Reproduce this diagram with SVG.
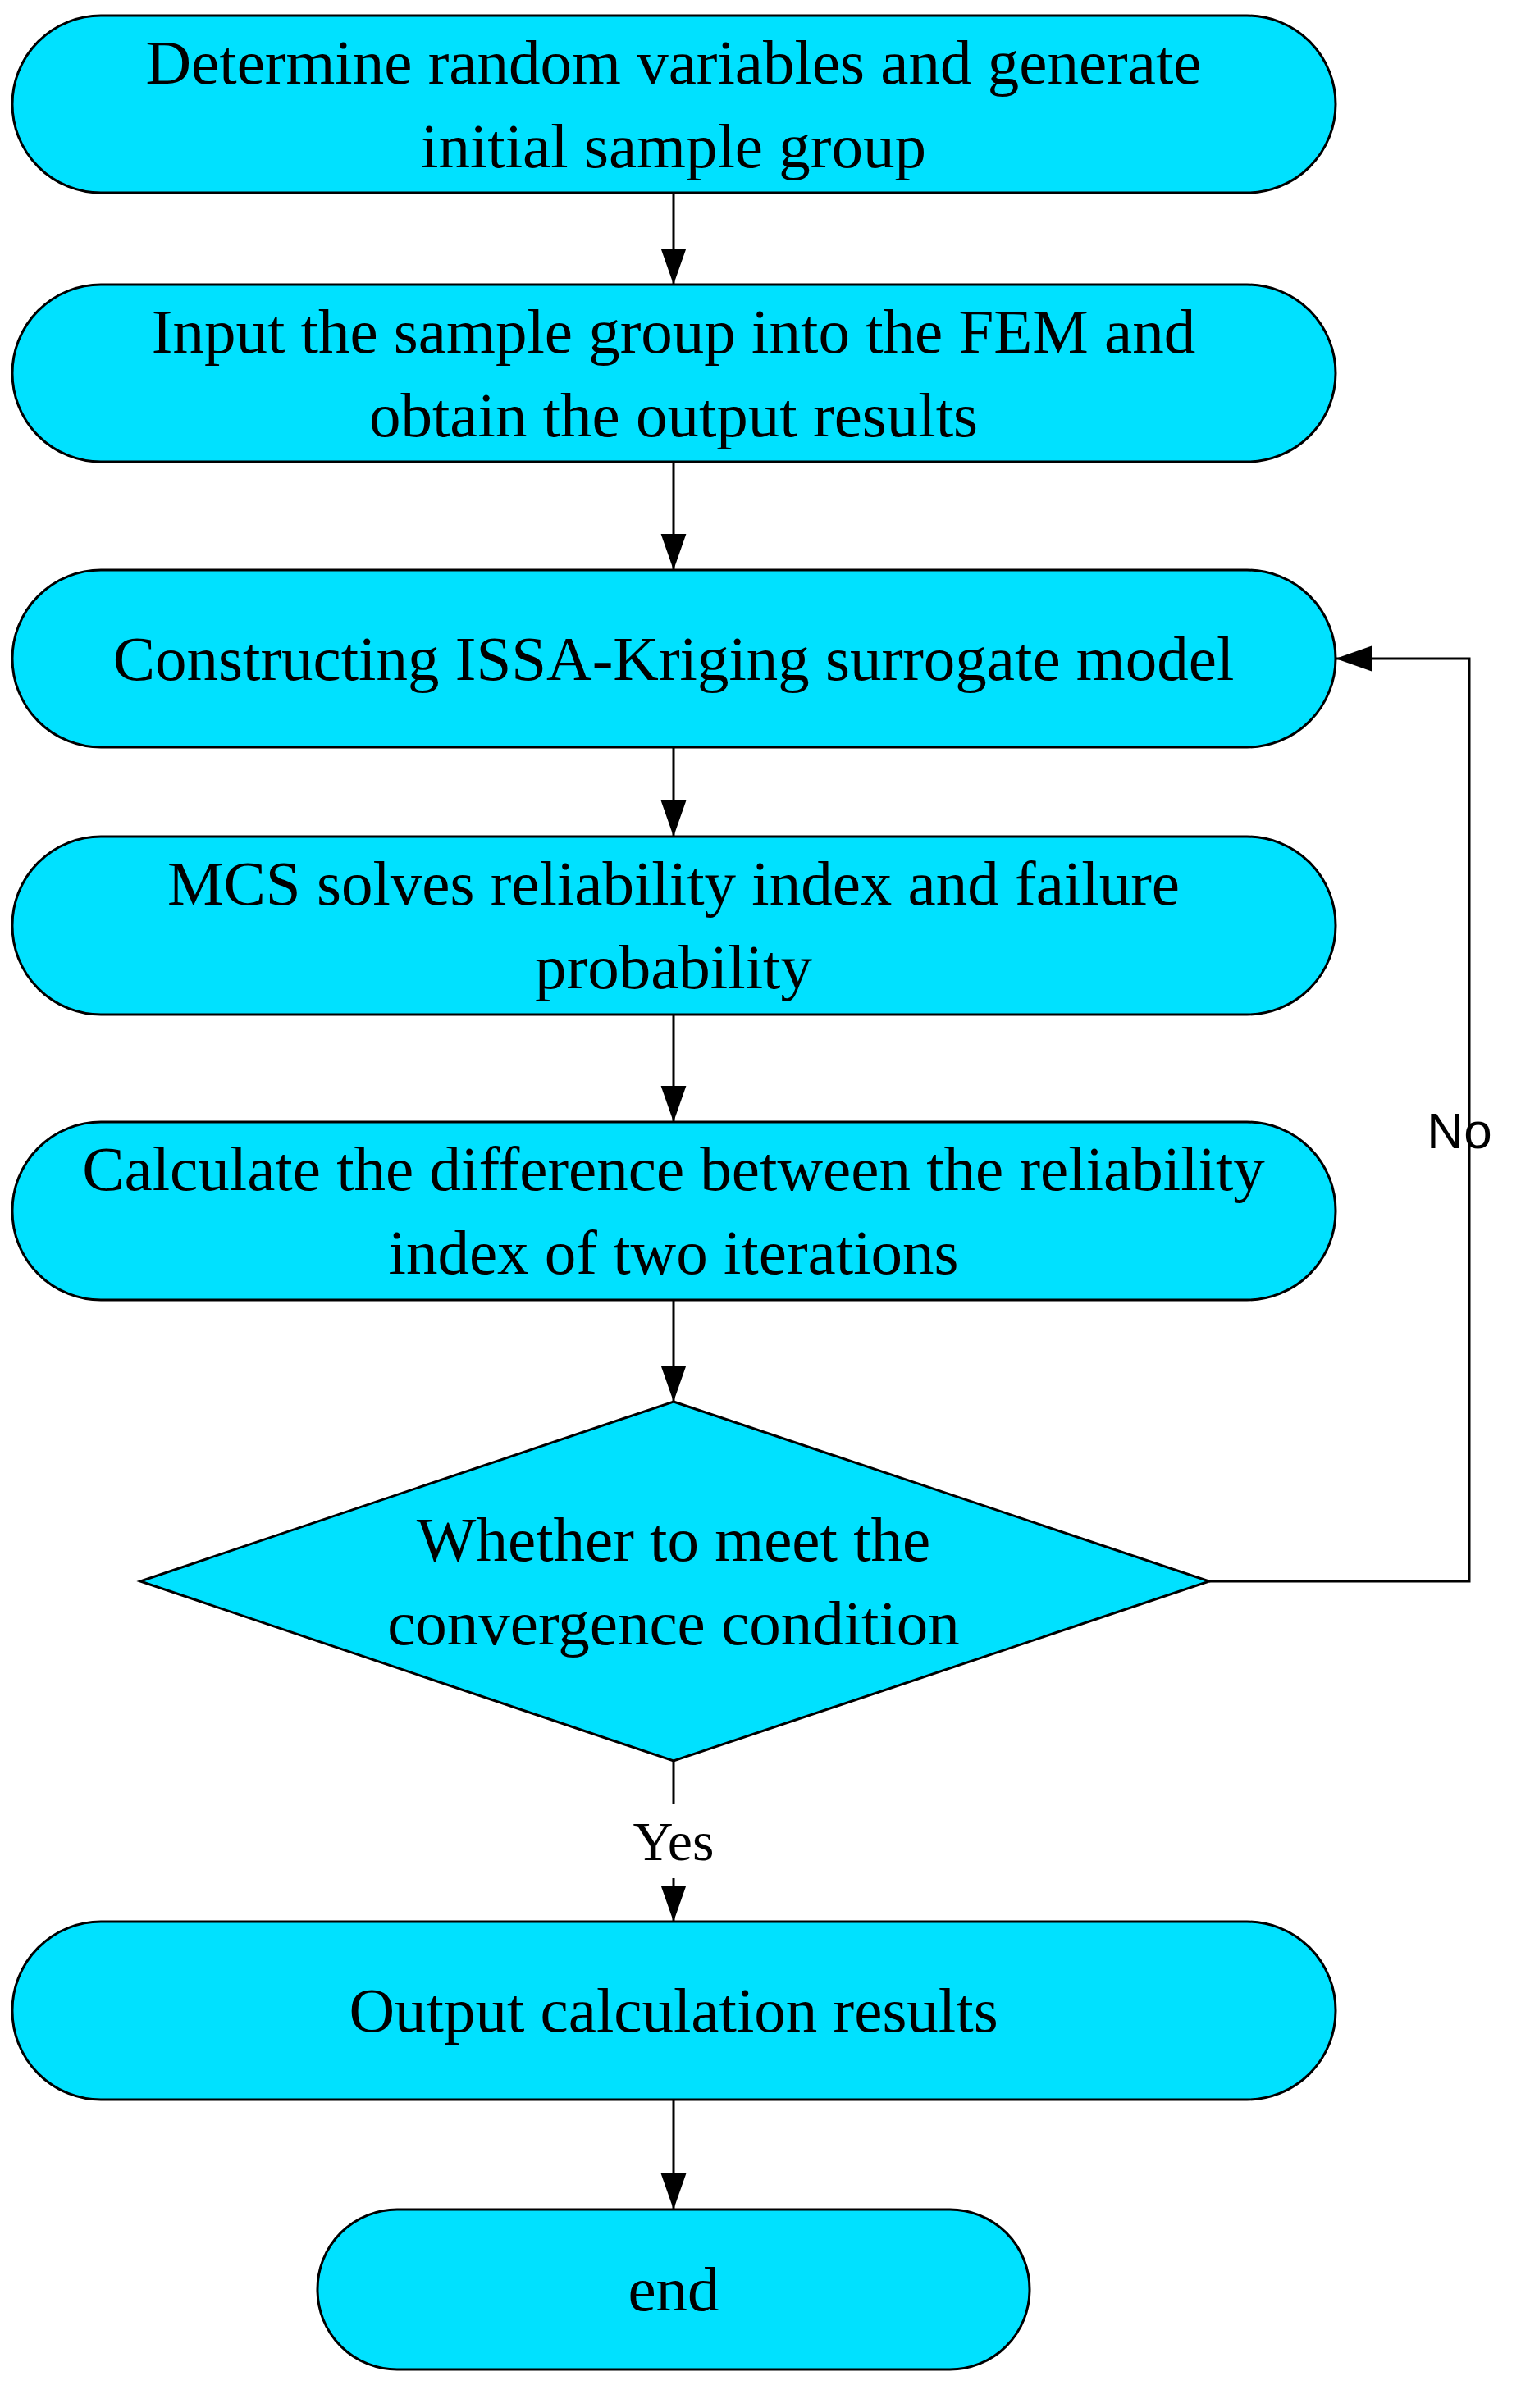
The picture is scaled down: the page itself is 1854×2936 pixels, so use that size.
<svg xmlns="http://www.w3.org/2000/svg" width="1854" height="2936" viewBox="0 0 1854 2936">
<style>
.n{fill:#00E1FF;stroke:#000;stroke-width:3}
.t{font-family:"Liberation Serif",serif;font-size:77px;text-anchor:middle;dominant-baseline:central;fill:#000}
.c{stroke:#000;stroke-width:3;fill:none}
</style>
<defs><marker id="a" markerWidth="12" markerHeight="12" refX="12" refY="6" orient="auto" markerUnits="userSpaceOnUse" viewBox="0 0 12 12"><path d="M0,0L12,6L0,12z" fill="#000"/></marker>
<marker id="b" viewBox="0 0 10 10" refX="10" refY="5" markerWidth="44" markerHeight="44" orient="auto" markerUnits="userSpaceOnUse"><path d="M0,1.5L10,5L0,8.5z" fill="#000"/></marker></defs>
<rect width="1854" height="2936" fill="#fff"/>
<g id="n1"><rect class="n" x="15" y="19" width="1613" height="216" rx="108"/><text class="t" x="821" y="76">Determine random variables and generate</text><text class="t" x="821" y="178">initial sample group</text></g>
<g id="n2"><rect class="n" x="15" y="347" width="1613" height="216" rx="108"/><text class="t" x="821" y="404">Input the sample group into the FEM and</text><text class="t" x="821" y="506">obtain the output results</text></g>
<g id="n3"><rect class="n" x="15" y="695" width="1613" height="216" rx="108"/><text class="t" x="821" y="803">Constructing ISSA-Kriging surrogate model</text></g>
<g id="n4"><rect class="n" x="15" y="1020" width="1613" height="217" rx="108"/><text class="t" x="821" y="1077">MCS solves reliability index and failure</text><text class="t" x="821" y="1179">probability</text></g>
<g id="n5"><rect class="n" x="15" y="1368" width="1613" height="217" rx="108"/><text class="t" x="821" y="1425">Calculate the difference between the reliability</text><text class="t" x="821" y="1527">index of two iterations</text></g>
<g id="d"><polygon class="n" points="821,1709 1474,1928 821,2147 171,1928"/><text class="t" x="821" y="1877">Whether to meet the</text><text class="t" x="821" y="1979">convergence condition</text></g>
<g id="n6"><rect class="n" x="15" y="2343" width="1613" height="217" rx="108"/><text class="t" x="821" y="2451">Output calculation results</text></g>
<g id="end"><rect class="n" x="387" y="2694" width="868" height="195" rx="97"/><text class="t" x="821" y="2791">end</text></g>
<g id="connectors">
<line class="c" x1="821" y1="235" x2="821" y2="347" marker-end="url(#b)"/>
<line class="c" x1="821" y1="563" x2="821" y2="695" marker-end="url(#b)"/>
<line class="c" x1="821" y1="911" x2="821" y2="1020" marker-end="url(#b)"/>
<line class="c" x1="821" y1="1237" x2="821" y2="1368" marker-end="url(#b)"/>
<line class="c" x1="821" y1="1585" x2="821" y2="1709" marker-end="url(#b)"/>
<polyline class="c" points="1474,1928 1791,1928 1791,803 1628,803" marker-end="url(#b)"/>
<line class="c" x1="821" y1="2147" x2="821" y2="2200"/>
<line class="c" x1="821" y1="2290" x2="821" y2="2343" marker-end="url(#b)"/>
<line class="c" x1="821" y1="2560" x2="821" y2="2694" marker-end="url(#b)"/>
<text class="t" x="821" y="2245" style="font-size:68px">Yes</text>
<text x="1779" y="1378" style="font-family:'Liberation Sans',sans-serif;font-size:62px;text-anchor:middle;dominant-baseline:central">No</text>
</g>
</svg>
